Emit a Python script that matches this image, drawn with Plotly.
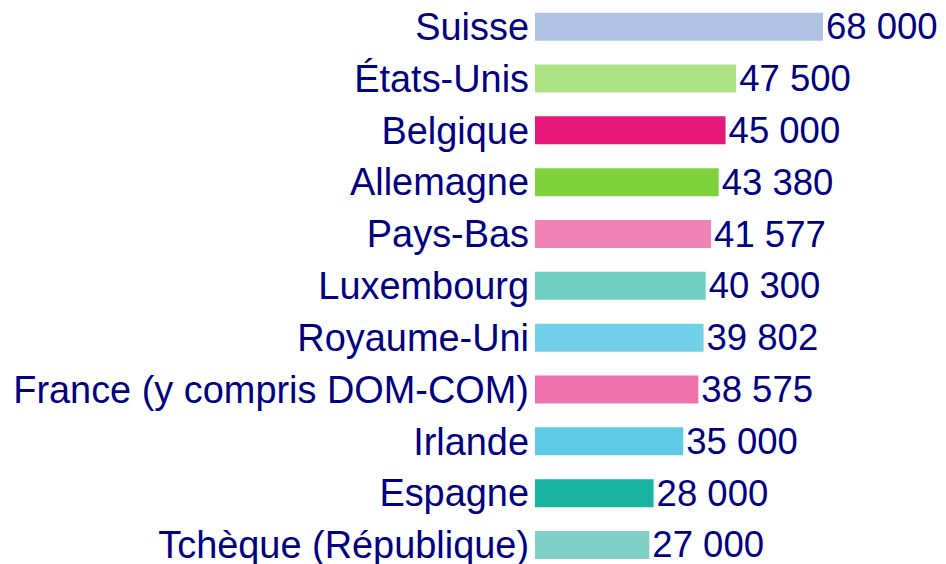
import plotly.graph_objects as go

countries = ["Suisse", "États-Unis", "Belgique", "Allemagne", "Pays-Bas", "Luxembourg",
             "Royaume-Uni", "France (y compris DOM-COM)", "Irlande", "Espagne",
             "Tchèque (République)"]
values = [68000, 47500, 45000, 43380, 41577, 40300, 39802, 38575, 35000, 28000, 27000]
colors = ["#B0C2E2", "#ADE287", "#E8177A", "#7FD23B", "#F083B6", "#70CDC2",
          "#72D0E8", "#EF72AC", "#5FCAE6", "#1AB39F", "#80D0C8"]
labels = [f"{v:,}".replace(",", " ") for v in values]

navy = "#000080"
fig = go.Figure(go.Bar(
    x=values, y=countries, orientation="h",
    marker=dict(color=colors, line=dict(width=0)),
    width=0.54,
    text=labels, textposition="outside", cliponaxis=False,
    constraintext="none", hoverinfo="skip",
    textfont=dict(family="Liberation Sans, Arial, sans-serif", size=36.5, color=navy),
))
fig.update_layout(
    width=946, height=564,
    margin=dict(l=535, r=0, t=0, b=0),
    paper_bgcolor="white", plot_bgcolor="white",
    showlegend=False,
    font=dict(family="Liberation Sans, Arial, sans-serif", size=37, color=navy),
    xaxis=dict(range=[0, 97050], visible=False, showgrid=False, zeroline=False,
               automargin=False),
    yaxis=dict(categoryorder="array", categoryarray=countries,
               range=[10.367, -0.515], showgrid=False, zeroline=False,
               showline=False, ticks="", ticklabelstandoff=5, automargin=False,
               tickfont=dict(size=37.9, color=navy)),
    bargap=0.46,
)
fig.write_html("out.html", config={"displayModeBar": False, "staticPlot": True},
               post_script="document.body.style.margin='0';document.body.style.overflow='hidden';")
